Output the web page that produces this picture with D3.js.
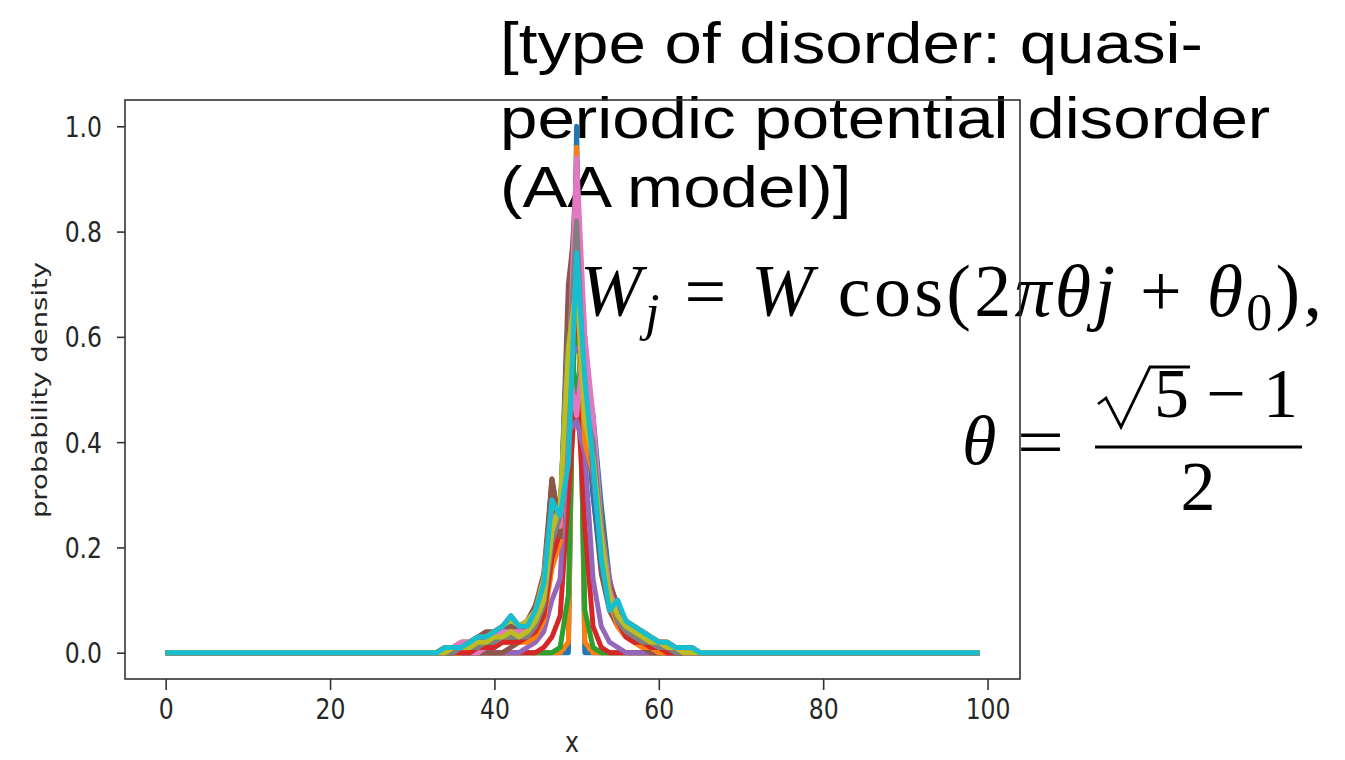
<!DOCTYPE html>
<html>
<head>
<meta charset="utf-8">
<script src="https://cdn.jsdelivr.net/npm/d3@7/dist/d3.min.js"></script>
<style>
  body { margin: 0; background: #fff; }
  svg { display: block; }
</style>
</head>
<body>
<svg width="1345" height="760"></svg>
<script>
// probability density per site, only sites 34..64 are non-zero
const siteCount = 100;
const windowStart = 34;
const series = [
    [0,0,0,0,0,0,0,0,0,0,0,0,0,0,0,0,1.0,0,0,0,0,0,0,0,0,0,0,0,0,0,0],
    [0,0,0,0,0,0,0,0,0,0,0,0,0,0,0,.02,.96,.02,0,0,0,0,0,0,0,0,0,0,0,0,0],
    [0,0,0,0,0,0,0,0,0,0,0,0,0,0,.01,.11,.80,.08,.01,0,0,0,0,0,0,0,0,0,0,0,0],
    [0,0,0,0,0,0,0,0,0,0,0,0,.01,.03,.07,.30,.52,.24,.05,.01,0,0,0,0,0,0,0,0,0,0,0],
    [0,0,0,0,0,0,0,0,0,0,.01,.02,.04,.10,.14,.42,.44,.38,.14,.05,.02,.01,0,0,0,0,0,0,0,0,0],
    [0,0,0,0,0,0,0,0,.01,.02,.03,.05,.10,.24,.22,.55,.90,.48,.30,.15,.08,.05,.03,.02,.01,0,0,0,0,0,0],
    [0,0,0,0,0,.01,.01,.02,.03,.03,.04,.06,.12,.30,.22,.45,.86,.60,.42,.22,.12,.08,.05,.04,.02,.01,0,0,0,0,0],
    [0,0,0,0,.01,.02,.03,.04,.05,.04,.05,.07,.13,.28,.26,.62,.88,.50,.32,.18,.10,.07,.05,.04,.03,.02,.01,0,0,0,0],
    [0,0,0,.01,.01,.02,.02,.03,.04,.03,.04,.06,.10,.20,.28,.50,.62,.44,.36,.20,.09,.06,.04,.03,.02,.02,.01,.01,0,0,0],
    [0,0,.01,.01,.02,.02,.03,.04,.06,.04,.05,.08,.12,.26,.24,.58,.78,.40,.38,.22,.12,.08,.05,.04,.03,.02,.02,.01,.01,0,0],
    [0,.01,.01,.02,.02,.03,.04,.05,.05,.04,.05,.07,.14,.31,.22,.66,.62,.52,.30,.17,.10,.07,.05,.04,.03,.02,.02,.01,.01,.01,0],
    [.01,.01,.01,.02,.03,.03,.04,.05,.06,.05,.05,.08,.11,.24,.28,.48,.72,.40,.34,.20,.12,.08,.06,.04,.04,.03,.02,.02,.01,.01,0],
    [0,.01,.01,.02,.02,.03,.04,.04,.05,.04,.06,.08,.12,.27,.25,.60,.50,.56,.36,.18,.11,.08,.06,.05,.03,.03,.02,.01,.01,.01,0],
    [.01,.01,.02,.02,.03,.03,.04,.05,.06,.05,.06,.09,.14,.29,.24,.52,.66,.46,.40,.22,.13,.09,.06,.05,.04,.03,.02,.02,.01,.01,.01],
    [0,.01,.01,.02,.02,.03,.03,.05,.06,.05,.05,.08,.13,.32,.25,.64,.58,.55,.34,.19,.11,.08,.05,.04,.04,.03,.02,.01,.01,.01,0],
    [.01,.01,.02,.02,.03,.04,.04,.05,.07,.05,.06,.09,.15,.33,.24,.70,.84,.50,.37,.20,.12,.09,.06,.05,.04,.03,.02,.02,.01,.01,.01],
    [.01,.01,.02,.02,.03,.03,.04,.05,.06,.05,.06,.08,.13,.30,.26,.55,.45,.60,.35,.21,.12,.08,.06,.05,.04,.03,.02,.02,.01,.01,.01],
    [.01,.01,.01,.02,.03,.03,.04,.05,.06,.05,.05,.08,.12,.28,.26,.60,.76,.48,.36,.19,.11,.08,.06,.04,.04,.03,.02,.01,.01,.01,0],
    [0,.01,.01,.02,.02,.03,.04,.05,.06,.05,.06,.08,.14,.30,.24,.57,.62,.52,.39,.21,.12,.09,.06,.05,.04,.03,.02,.02,.01,.01,0],
    [0,.01,.01,.01,.02,.02,.03,.04,.05,.04,.04,.06,.10,.24,.27,.62,.68,.49,.39,.21,.10,.08,.05,.04,.03,.02,.02,.01,.01,0,0],
    [0,0,.01,.01,.01,.02,.02,.03,.03,.02,.03,.04,.08,.20,.22,.48,.62,.56,.45,.28,.14,.06,.04,.03,.02,.01,.01,0,0,0,0],
    [0,0,0,.01,.01,.01,.02,.02,.02,.02,.02,.03,.06,.16,.21,.44,.70,.50,.40,.24,.10,.05,.03,.02,.01,.01,0,0,0,0,0],
    [0,0,.01,.01,.01,.02,.02,.03,.04,.03,.04,.05,.09,.22,.26,.52,.60,.54,.44,.26,.13,.07,.04,.03,.02,.02,.01,.01,0,0,0],
    [0,0,0,0,.01,.01,.01,.02,.02,.02,.03,.04,.07,.18,.23,.46,.66,.52,.42,.25,.12,.06,.03,.02,.02,.01,.01,0,0,0,0],
    [0,.01,.01,.01,.02,.02,.03,.03,.04,.03,.04,.06,.10,.24,.25,.56,.58,.58,.38,.23,.14,.08,.05,.04,.03,.02,.01,.01,.01,0,0],
    [.01,.01,.01,.02,.02,.03,.03,.04,.05,.04,.05,.07,.12,.33,.22,.62,.92,.52,.35,.21,.13,.09,.06,.04,.03,.02,.02,.01,.01,.01,0],
    [0,.01,.01,.01,.02,.02,.03,.04,.04,.04,.04,.06,.11,.26,.24,.50,.94,.60,.45,.24,.12,.07,.05,.04,.03,.02,.01,.01,.01,0,0],
    [0,0,.01,.01,.01,.02,.02,.03,.03,.03,.03,.05,.09,.21,.26,.54,.82,.47,.40,.23,.11,.06,.04,.03,.02,.02,.01,.01,0,0,0],
    [0,.01,.01,.01,.02,.02,.03,.03,.04,.03,.04,.06,.10,.23,.28,.58,.70,.44,.37,.22,.11,.07,.05,.04,.03,.02,.02,.01,.01,0,0],
    [.01,.01,.01,.02,.03,.03,.04,.05,.07,.05,.05,.08,.13,.29,.26,.36,.76,.52,.36,.18,.08,.10,.06,.05,.04,.03,.02,.02,.01,.01,.01]
];
const colors = ["#1f77b4", "#ff7f0e", "#2ca02c", "#d62728", "#9467bd",
                "#8c564b", "#e377c2", "#7f7f7f", "#bcbd22", "#17becf"];
const xTicks = [0, 20, 40, 60, 80, 100];
const yTicks = [0.0, 0.2, 0.4, 0.6, 0.8, 1.0];
const xLabel = "x";
const yLabel = "probability density";
const noteLines = ["[type of disorder: quasi-", "periodic potential disorder", "(AA model)]"];

document.addEventListener("DOMContentLoaded", function() {
    const svg = d3.select("svg");
    const tickFont = "'DejaVu Sans', sans-serif";
    const stretch = 1.2; // the screenshot is stretched vertically

    const x = d3.scaleLinear().domain([-4.95, 103.95]).range([125, 1020]);
    const y = d3.scaleLinear().domain([-0.05, 1.05]).range([679, 100]);

    // note text sits under the plot, like in the slide
    const note = svg.append("g")
        .attr("transform", "translate(500,0) scale(1.16,1)")
        .style("font-family", "'Liberation Sans', Arial, sans-serif")
        .style("font-size", "58px")
        .attr("fill", "#000");
    note.selectAll("text")
        .data(noteLines)
        .enter().append("text")
        .attr("x", 0)
        .attr("y", (d, i) => [63, 138, 207][i])
        .text(d => d);

    // formula  W_j = W cos(2πθj + θ0),
    const serif = "'Liberation Serif', 'Times New Roman', serif";
    const f1 = svg.append("text")
        .attr("x", 580).attr("y", 316)
        .attr("textLength", 742).attr("lengthAdjust", "spacing")
        .style("font-family", serif).style("font-size", "74px");
    f1.append("tspan").style("font-style", "italic").text("W");
    f1.append("tspan").style("font-style", "italic").style("font-size", "52px").attr("dy", 14).text("j");
    f1.append("tspan").attr("dy", -14).text(" = ");
    f1.append("tspan").style("font-style", "italic").text("W");
    f1.append("tspan").text(" cos(2");
    f1.append("tspan").style("font-style", "italic").text("πθj");
    f1.append("tspan").text(" + ");
    f1.append("tspan").style("font-style", "italic").text("θ");
    f1.append("tspan").style("font-size", "52px").attr("dy", 14).text("0");
    f1.append("tspan").attr("dy", -14).text("),");

    // θ = (√5 − 1) / 2
    const f2 = svg.append("g").style("font-family", serif).style("font-size", "70px");
    f2.append("text").attr("x", 962).attr("y", 464).style("font-style", "italic").text("θ");
    f2.append("text").attr("x", 1017).attr("y", 466).attr("textLength", 47).attr("lengthAdjust", "spacingAndGlyphs").text("=");
    // radical sign
    f2.append("path")
        .attr("d", "M1098,404 L1106,398 L1121,427 L1150,367 L1190,367")
        .attr("fill", "none").attr("stroke", "#000").attr("stroke-width", 2.8)
        .attr("stroke-linejoin", "miter");
    f2.append("text").attr("x", 1154).attr("y", 417)
        .attr("textLength", 144).attr("lengthAdjust", "spacing").text("5 − 1");
    f2.append("line").attr("x1", 1095).attr("x2", 1302).attr("y1", 447).attr("y2", 447)
        .attr("stroke", "#000").attr("stroke-width", 2.8);
    f2.append("text").attr("x", 1198).attr("y", 510).attr("text-anchor", "middle").text("2");

    // lines
    const line = d3.line()
        .x((d, i) => x(i))
        .y(d => y(d));

    const fullSeries = series.map(vals => {
        const arr = new Array(siteCount).fill(0);
        vals.forEach((v, i) => { arr[windowStart + i] = v; });
        return arr;
    });

    svg.append("g")
        .attr("class", "lines")
        .selectAll("path")
        .data(fullSeries)
        .enter().append("path")
        .attr("d", line)
        .attr("fill", "none")
        .attr("stroke", (d, i) => colors[i % colors.length])
        .attr("stroke-width", 5)
        .attr("stroke-linejoin", "round");

    // axes
    const xAxis = svg.append("g")
        .attr("transform", "translate(0,679)")
        .call(d3.axisBottom(x).tickValues(xTicks).tickSize(11).tickSizeOuter(0).tickFormat(d3.format("d")));
    xAxis.select(".domain").remove();
    xAxis.selectAll("line").attr("stroke", "#333").attr("stroke-width", 1.6);
    xAxis.selectAll("text")
        .attr("y", 0).attr("dy", 0)
        .attr("transform", `translate(0,40) scale(1,${stretch})`)
        .style("font-family", tickFont).style("font-size", "23.5px").attr("fill", "#262626");

    const yAxis = svg.append("g")
        .attr("transform", "translate(125,0)")
        .call(d3.axisLeft(y).tickValues(yTicks).tickSize(8).tickSizeOuter(0).tickFormat(d3.format(".1f")));
    yAxis.select(".domain").remove();
    yAxis.selectAll("line").attr("stroke", "#333").attr("stroke-width", 1.6);
    yAxis.selectAll("text")
        .attr("x", -23).attr("dy", 0)
        .attr("transform", `translate(0,10) scale(1,${stretch})`)
        .style("font-family", tickFont).style("font-size", "23.5px").attr("fill", "#262626");

    // frame
    svg.append("rect")
        .attr("x", 125).attr("y", 100).attr("width", 895).attr("height", 579)
        .attr("fill", "none").attr("stroke", "#333").attr("stroke-width", 1.6);

    svg.append("text")
        .attr("transform", `translate(572,752) scale(1,${stretch})`)
        .attr("text-anchor", "middle")
        .style("font-family", tickFont).style("font-size", "23.5px").attr("fill", "#262626")
        .text(xLabel);

    svg.append("text")
        .attr("transform", `translate(47,390) rotate(-90) scale(1.25,1)`)
        .attr("text-anchor", "middle")
        .style("font-family", tickFont).style("font-size", "22px").attr("fill", "#262626")
        .text(yLabel);
});
</script>
</body>
</html>
